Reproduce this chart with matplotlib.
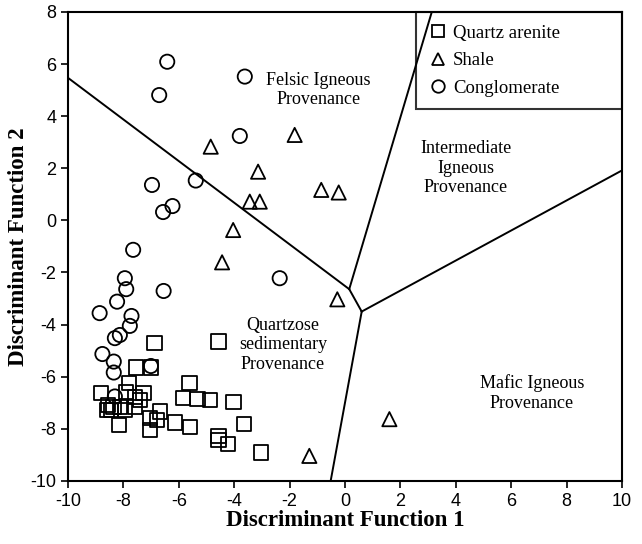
import numpy as np
import matplotlib
matplotlib.use("Agg")
import matplotlib.pyplot as plt
from matplotlib.lines import Line2D

# Quartz arenite samples (DF1, DF2)
qa_x = [-6.88, -7.56, -7.00, -7.79, -8.81, -7.92, -7.28, -7.58, -7.40, -5.84,
        -8.55, -8.36, -8.12, -7.94, -7.58, -8.60, -8.46, -8.15, -6.68, -7.04,
        -6.80, -7.04, -6.14, -5.61, -4.57, -5.62, -5.33, -4.87, -4.03, -3.64,
        -4.57, -4.57, -4.23, -3.03]
qa_y = [-4.72, -5.65, -5.65, -6.23, -6.63, -6.60, -6.63, -6.79, -6.89, -6.83,
        -7.08, -7.15, -7.17, -7.28, -7.17, -7.28, -7.28, -7.85, -7.34, -7.59,
        -7.66, -8.04, -7.76, -7.92, -4.65, -6.25, -6.86, -6.89, -6.96, -7.81,
        -8.27, -8.43, -8.59, -8.91]

# Shale samples
sh_x = [-4.85, -1.82, -3.14, -0.86, -0.23, -3.44, -3.08, -4.04, -4.44, -0.28,
        -1.29, 1.60]
sh_y = [2.83, 3.28, 1.87, 1.17, 1.07, 0.72, 0.72, -0.37, -1.61, -3.03,
        -9.04, -7.63]

# Conglomerate samples
cg_x = [-6.42, -6.71, -3.62, -3.80, -6.97, -5.39, -6.23, -6.57, -7.65, -7.95,
        -7.90, -8.23, -8.86, -7.71, -7.77, -8.13, -8.31, -8.76, -8.35, -8.35,
        -7.01, -6.55, -2.36, -8.31]
cg_y = [6.09, 4.81, 5.52, 3.24, 1.36, 1.53, 0.55, 0.32, -1.13, -2.22,
        -2.64, -3.12, -3.56, -3.67, -4.05, -4.40, -4.52, -5.13, -5.42, -5.84,
        -5.59, -2.71, -2.22, -6.76]

# field boundaries
bound_segments = [
    [(-10.0, 5.47), (0.15, -2.64)],
    [(0.15, -2.64), (3.13, 8.0)],
    [(0.15, -2.64), (0.60, -3.50)],
    [(0.60, -3.50), (10.0, 1.92)],
    [(0.60, -3.50), (-0.52, -10.0)],
]

field_labels = ["Felsic Igneous\nProvenance",
                "Intermediate\nIgneous\nProvenance",
                "Quartzose\nsedimentary\nProvenance",
                "Mafic Igneous\nProvenance"]
field_pos = [(-0.97, 5.0), (4.36, 2.01), (-2.24, -4.78), (6.74, -6.62)]

serif = ["Liberation Serif", "DejaVu Serif"]
plt.rcParams["font.family"] = ["Liberation Sans", "DejaVu Sans"]
plt.rcParams["axes.unicode_minus"] = False

fig = plt.figure(figsize=(6.42, 5.44), dpi=100)
ax = fig.add_axes([0.106, 0.116, 0.863, 0.862])

for seg in bound_segments:
    xs = [p[0] for p in seg]
    ys = [p[1] for p in seg]
    ax.plot(xs, ys, color="black", lw=1.4, zorder=2)

mk = dict(facecolors="none", edgecolors="black", linewidths=1.3, s=105, zorder=3)
ax.scatter(qa_x, qa_y, marker="s", **mk)
ax.scatter(sh_x, sh_y, marker="^", **mk)
ax.scatter(cg_x, cg_y, marker="o", **mk)

for txt, (tx, ty) in zip(field_labels, field_pos):
    ax.text(tx, ty, txt, ha="center", va="center", family=serif, fontsize=13,
            linespacing=1.2)

ax.set_xlim(-10, 10)
ax.set_ylim(-10, 8)
ax.set_xticks(np.arange(-10, 11, 2))
ax.set_yticks(np.arange(-10, 9, 2))
ax.tick_params(direction="out", length=5, width=1.2, labelsize=13)
for sp in ax.spines.values():
    sp.set_linewidth(1.5)

ax.set_xlabel("Discriminant Function 1", family=serif, fontweight="bold",
              fontsize=16.5, labelpad=0)
ax.set_ylabel("Discriminant Function 2", family=serif, fontweight="bold",
              fontsize=16.5, labelpad=1)

handles = [
    Line2D([], [], ls="none", marker="s", mfc="none", mec="black", ms=9, mew=1.3),
    Line2D([], [], ls="none", marker="^", mfc="none", mec="black", ms=9, mew=1.3),
    Line2D([], [], ls="none", marker="o", mfc="none", mec="black", ms=9, mew=1.3),
]
# legend box spans from x~2.55 to the right edge, touching the top
leg = ax.legend(handles, ["Quartz arenite", "Shale", "Conglomerate"],
                loc="upper left", bbox_to_anchor=(0.628, 0.0, 0.372, 1.0),
                mode="expand", borderaxespad=0, frameon=True,
                fancybox=False, facecolor="none", edgecolor="black",
                prop={"family": serif, "size": 13.5}, handletextpad=0.3,
                handlelength=1.0, labelspacing=0.55, borderpad=0.68)
leg.get_frame().set_linewidth(1.5)

fig.savefig("out.png", dpi=100)
